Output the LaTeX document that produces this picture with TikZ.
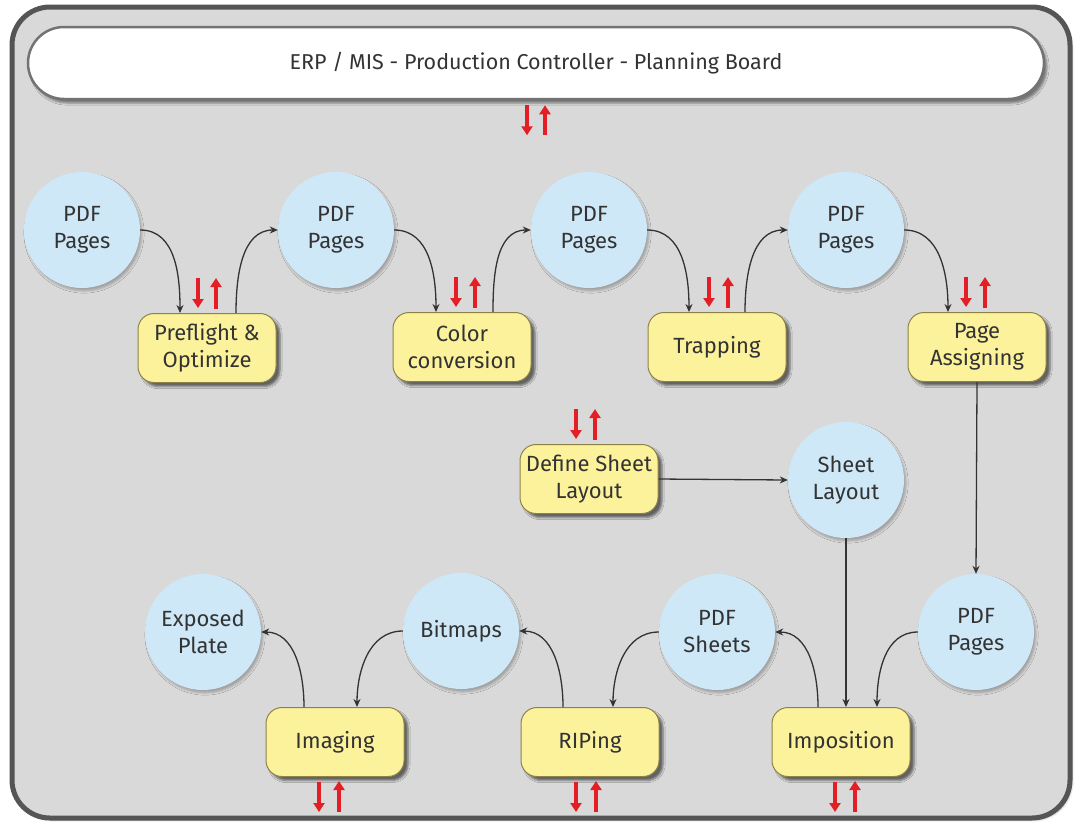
\documentclass[tikz,border=0pt]{standalone}
\usepackage{fontspec}
\setmainfont{Fira Sans}
\usetikzlibrary{arrows.meta,shadows.blur}
\definecolor{framegray}{HTML}{D9D9D9}
\definecolor{frameedge}{HTML}{555555}
\definecolor{boxyellow}{HTML}{FDF29C}
\definecolor{boxedge}{HTML}{8C8248}
\definecolor{discblue}{HTML}{CFE8F8}
\definecolor{textdark}{HTML}{333333}
\definecolor{syncred}{HTML}{E31E24}
\tikzset{
  disc/.style={circle, fill=discblue, minimum size=116pt, inner sep=0pt,
    align=center, text=textdark, font=\fontsize{22}{27}\selectfont,
    blur shadow={shadow xshift=2pt, shadow yshift=-3pt, shadow opacity=25}},
  task/.style={rounded corners=16pt, fill=boxyellow, draw=boxedge, line width=1pt,
    minimum width=138pt, minimum height=69pt, inner sep=2pt,
    align=center, text=textdark, font=\fontsize{22}{27}\selectfont,
    blur shadow={shadow xshift=4pt, shadow yshift=-4pt, shadow opacity=55}},
  flow/.style={draw=textdark, line width=1.3pt, -{Stealth[length=8pt,width=7pt]}},
  sync/.style={draw=syncred, line width=4pt, -{Triangle[length=9pt,width=11pt]}}
}
\begin{document}
\begin{tikzpicture}[x=1pt,y=1pt]
  \useasboundingbox (0,0) rectangle (1075,-823);
  % frame and title bar
  \draw[fill=framegray, draw=frameedge, line width=5pt, rounded corners=38pt,
    blur shadow={shadow xshift=2pt, shadow yshift=-2pt, shadow opacity=30}]
    (12,-7) rectangle (1070,-818);
  \node[rounded corners=36pt, fill=white, draw=black!55, line width=2.5pt,
    minimum width=1016pt, minimum height=72pt, text=textdark,
    font=\fontsize{21.5}{26}\selectfont,
    blur shadow={shadow xshift=3pt, shadow yshift=-4pt, shadow opacity=45}]
    (board) at (536,-63) {ERP / MIS - Production Controller - Planning Board};

  % pages row
  \node[disc] (pdf1) at (82,-230) {PDF\\Pages};
  \node[disc] (pdf2) at (336,-230) {PDF\\Pages};
  \node[disc] (pdf3) at (589,-230) {PDF\\Pages};
  \node[disc] (pdf4) at (846,-230) {PDF\\Pages};
  \node[task] (preflight) at (207,-348) {Preflight \&\\Optimize};
  \node[task] (color) at (462,-347) {Color\\conversion};
  \node[task] (trapping) at (717,-347) {Trapping};
  \node[task] (assign) at (977,-347) {Page\\Assigning};

  % sheet layout
  \node[task] (define) at (589,-479) {Define Sheet\\Layout};
  \node[disc] (layout) at (846,-480) {Sheet\\Layout};

  % output row
  \node[disc] (plate) at (203,-632) {Exposed\\Plate};
  \node[disc] (bitmaps) at (461,-631) {Bitmaps};
  \node[disc] (sheets) at (717,-632) {PDF\\Sheets};
  \node[disc] (pdf5) at (976,-632) {PDF\\Pages};
  \node[task] (imaging) at (335,-742) {Imaging};
  \node[task] (riping) at (590,-742) {RIPing};
  \node[task] (imposition) at (841,-742) {Imposition};

  % connectors
  \draw[flow] (pdf1.east) to[out=0,in=90] ([xshift=-27pt]preflight.north);
  \draw[flow] ([xshift=29pt]preflight.north) to[out=90,in=180] (pdf2.west);
  \draw[flow] (pdf2.east) to[out=0,in=90] ([xshift=-26pt]color.north);
  \draw[flow] ([xshift=31pt]color.north) to[out=90,in=180] (pdf3.west);
  \draw[flow] (pdf3.east) to[out=0,in=90] ([xshift=-28pt]trapping.north);
  \draw[flow] ([xshift=28pt]trapping.north) to[out=90,in=180] (pdf4.west);
  \draw[flow] (pdf4.east) to[out=0,in=90] ([xshift=-29pt]assign.north);
  \draw[flow] (assign.south) -- (pdf5.north);
  \draw[flow] (define.east) -- (layout.west);
  \draw[flow] (layout.south) -- (layout.south |- imposition.north);
  \draw[flow] (pdf5.west) to[out=180,in=90] ([xshift=36pt]imposition.north);
  \draw[flow] ([xshift=-23pt]imposition.north) to[out=90,in=0] (sheets.east);
  \draw[flow] (sheets.west) to[out=180,in=90] ([xshift=23pt]riping.north);
  \draw[flow] ([xshift=-27pt]riping.north) to[out=90,in=0] (bitmaps.east);
  \draw[flow] (bitmaps.west) to[out=180,in=90] ([xshift=22pt]imaging.north);
  \draw[flow] ([xshift=-31pt]imaging.north) to[out=90,in=0] (plate.east);

  % red sync arrows
  \foreach \b/\l/\r in {preflight/-9/9, color/-6/13, trapping/-8/11, assign/-11/8, define/-13/6} {
    \draw[sync] ([xshift=\l pt, yshift=35pt]\b.north) -- ([xshift=\l pt, yshift=5pt]\b.north);
    \draw[sync] ([xshift=\r pt, yshift=4pt]\b.north) -- ([xshift=\r pt, yshift=35pt]\b.north);
  }
  \foreach \b/\l/\r in {imaging/-16/4, riping/-14/6, imposition/-6/14} {
    \draw[sync] ([xshift=\l pt, yshift=-5pt]\b.south) -- ([xshift=\l pt, yshift=-35pt]\b.south);
    \draw[sync] ([xshift=\r pt, yshift=-35pt]\b.south) -- ([xshift=\r pt, yshift=-4pt]\b.south);
  }
  \draw[sync] ([xshift=-9pt, yshift=-5pt]board.south) -- ([xshift=-9pt, yshift=-35pt]board.south);
  \draw[sync] ([xshift=9pt, yshift=-35pt]board.south) -- ([xshift=9pt, yshift=-5pt]board.south);
\end{tikzpicture}
\end{document}
